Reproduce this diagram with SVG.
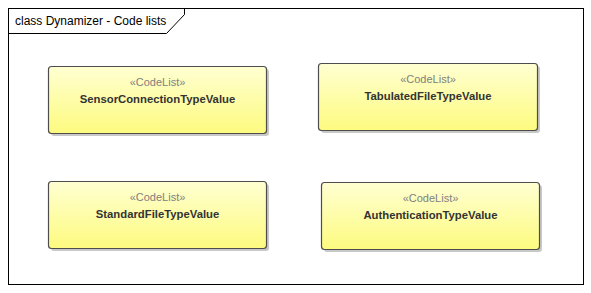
<svg xmlns="http://www.w3.org/2000/svg" width="591" height="293" viewBox="0 0 591 293">
  <style>
    .frame { fill: #ffffff; stroke: #000000; stroke-width: 1; }
    .shadow { fill: #c8c8c8; }
    .box { fill: url(#codeListFill); stroke: #4d4d4d; stroke-width: 1.2; }
    .title { font-family: "Liberation Sans", Arial, sans-serif; font-size: 12px; fill: #000000; }
    .stereo { font-family: "Liberation Sans", Arial, sans-serif; font-size: 11px; fill: #808080; text-anchor: middle; }
    .name { font-family: "Liberation Sans", Arial, sans-serif; font-size: 11.3px; font-weight: bold; fill: #333333; text-anchor: middle; }
  </style>
  <defs>
    <linearGradient id="codeListFill" x1="0" y1="0" x2="0" y2="1">
      <stop offset="0" stop-color="#ffffd2"/>
      <stop offset="1" stop-color="#fdfb7f"/>
    </linearGradient>
  </defs>

  <rect width="591" height="293" fill="#ffffff"/>

  <!-- diagram frame with name tab -->
  <g id="frame">
    <rect class="frame" x="8.5" y="8.5" width="575" height="276"/>
    <path d="M8.5 33.5 H166.5 L184.5 14.5 V8.5" fill="none" stroke="#000000" stroke-width="1"/>
    <text class="title" x="15" y="25">class Dynamizer - Code lists</text>
  </g>

  <g id="connectors"/>

  <g id="SensorConnectionTypeValue">
    <rect class="shadow" x="51" y="69" width="218" height="67" rx="3"/>
    <rect class="box" x="48.5" y="66.5" width="218" height="67" rx="3"/>
    <text class="stereo" x="157.5" y="86">«CodeList»</text>
    <text class="name" x="157.5" y="103">SensorConnectionTypeValue</text>
  </g>

  <g id="TabulatedFileTypeValue">
    <rect class="shadow" x="321" y="66" width="219" height="67" rx="3"/>
    <rect class="box" x="318.5" y="63.5" width="219" height="67" rx="3"/>
    <text class="stereo" x="428" y="83">«CodeList»</text>
    <text class="name" x="428" y="100">TabulatedFileTypeValue</text>
  </g>

  <g id="StandardFileTypeValue">
    <rect class="shadow" x="51" y="184" width="218" height="67" rx="3"/>
    <rect class="box" x="48.5" y="181.5" width="218" height="67" rx="3"/>
    <text class="stereo" x="157.5" y="201">«CodeList»</text>
    <text class="name" x="157.5" y="218">StandardFileTypeValue</text>
  </g>

  <g id="AuthenticationTypeValue">
    <rect class="shadow" x="324" y="185" width="218" height="67" rx="3"/>
    <rect class="box" x="321.5" y="182.5" width="218" height="67" rx="3"/>
    <text class="stereo" x="430.5" y="202">«CodeList»</text>
    <text class="name" x="430.5" y="219">AuthenticationTypeValue</text>
  </g>
</svg>
